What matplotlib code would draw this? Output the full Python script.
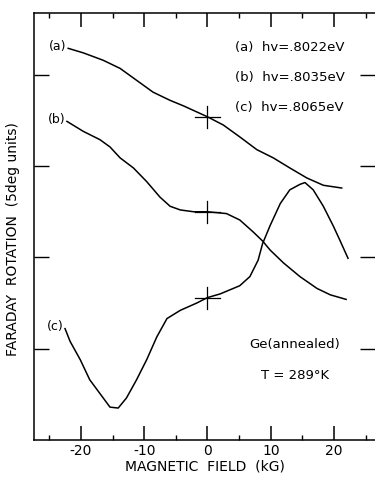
import matplotlib.pyplot as plt
from matplotlib.ticker import MultipleLocator

# curve (a) hv=.8022eV
field_a = [-22.0, -19.6, -16.5, -13.8, -11.2, -8.6, -5.9, -3.8, 0.0, 2.5, 5.1,
           7.8, 10.4, 13.0, 15.7, 18.3, 21.2]
rot_a = [4.29, 4.24, 4.16, 4.07, 3.94, 3.81, 3.72, 3.66, 3.54, 3.45, 3.32,
         3.18, 3.09, 2.98, 2.87, 2.79, 2.76]

# curve (b) hv=.8035eV
field_b = [-22.2, -19.6, -17.0, -15.4, -13.8, -11.7, -9.6, -7.5, -5.9, -4.3, -2.2,
           0.0, 3.0, 5.1, 7.2, 8.7, 9.9, 12.0, 14.6, 17.3, 19.4, 21.9]
rot_b = [3.49, 3.38, 3.29, 3.21, 3.09, 2.98, 2.83, 2.66, 2.56, 2.52, 2.50,
         2.50, 2.48, 2.41, 2.28, 2.18, 2.08, 1.94, 1.79, 1.66, 1.59, 1.54]

# curve (c) hv=.8065eV
field_c = [-22.5, -21.7, -20.1, -18.6, -17.0, -15.4, -14.1, -12.8, -11.2, -9.6, -8.0,
           -6.4, -4.3, -1.7, 0.0, 2.0, 5.1, 6.7, 8.0, 8.7, 9.9, 11.5, 13.0, 14.6,
           15.4, 16.7, 18.3, 19.9, 20.9, 22.2]
rot_c = [1.22, 1.08, 0.88, 0.66, 0.51, 0.36, 0.35, 0.46, 0.66, 0.88, 1.13,
         1.33, 1.42, 1.50, 1.56, 1.60, 1.69, 1.79, 1.97, 2.15, 2.35, 2.59, 2.74, 2.80,
         2.82, 2.74, 2.56, 2.34, 2.19, 1.99]

# zero-field markers
cross_y = [3.54, 2.50, 1.56]
curve_labels = ["(a)", "(b)", "(c)"]
legend_lines = ["(a)  hv=.8022eV", "(b)  hv=.8035eV", "(c)  hv=.8065eV"]

fig = plt.figure(figsize=(3.75, 4.78), dpi=100)
ax = fig.add_axes([0.0907, 0.0795, 0.9093, 0.8933])

ax.plot(field_a, rot_a, color="black", lw=1.1)
ax.plot(field_b, rot_b, color="black", lw=1.1)
ax.plot(field_c, rot_c, color="black", lw=1.1)

# crosshairs at B = 0
for y in cross_y:
    ax.plot([-2, 2], [y, y], color="black", lw=0.9)
    ax.plot([0, 0], [y - 0.12, y + 0.12], color="black", lw=0.9)

# labels at curve starts
starts = [(field_a[0], rot_a[0]), (field_b[0], rot_b[0]), (field_c[0], rot_c[0])]
for lab, (x, y) in zip(curve_labels, starts):
    ax.text(x - 0.3, y + 0.02, lab, ha="right", va="center", fontsize=9)

for i, line in enumerate(legend_lines):
    ax.text(4.3, 4.3 - i * 0.33, line, ha="left", va="center", fontsize=9.5)

ax.text(13.8, 1.05, "Ge(annealed)", ha="center", va="center", fontsize=9.5)
ax.text(13.8, 0.71, "T = 289°K", ha="center", va="center", fontsize=9.5)

ax.set_xlim(-27.4, 26.46)
ax.set_ylim(0, 4.677)
ax.xaxis.set_major_locator(MultipleLocator(10))
ax.xaxis.set_minor_locator(MultipleLocator(5))
ax.yaxis.set_major_locator(MultipleLocator(1))
ax.set_xticks([-20, -10, 0, 10, 20])
ax.set_xticklabels(["-20", "-10", "0", "10", "20"])
ax.set_yticks([1, 2, 3, 4])
ax.set_yticklabels([])

ax.tick_params(axis="x", which="major", direction="in", length=10, width=1.1,
               top=True, bottom=True, labelsize=10, pad=3)
ax.tick_params(axis="x", which="minor", direction="in", length=3.5, width=1.0,
               top=True, bottom=True)
ax.tick_params(axis="y", which="major", direction="in", length=11, width=1.0,
               left=True, right=True)

ax.spines["right"].set_visible(False)
for s in ["left", "bottom", "top"]:
    ax.spines[s].set_linewidth(1.1)

ax.set_xlabel("MAGNETIC  FIELD  (kG)", fontsize=10, labelpad=1)
fig.text(0.035, 0.5, "FARADAY  ROTATION  (5deg units)", rotation=90,
         ha="center", va="center", fontsize=10)

fig.savefig("out.png", dpi=100)
